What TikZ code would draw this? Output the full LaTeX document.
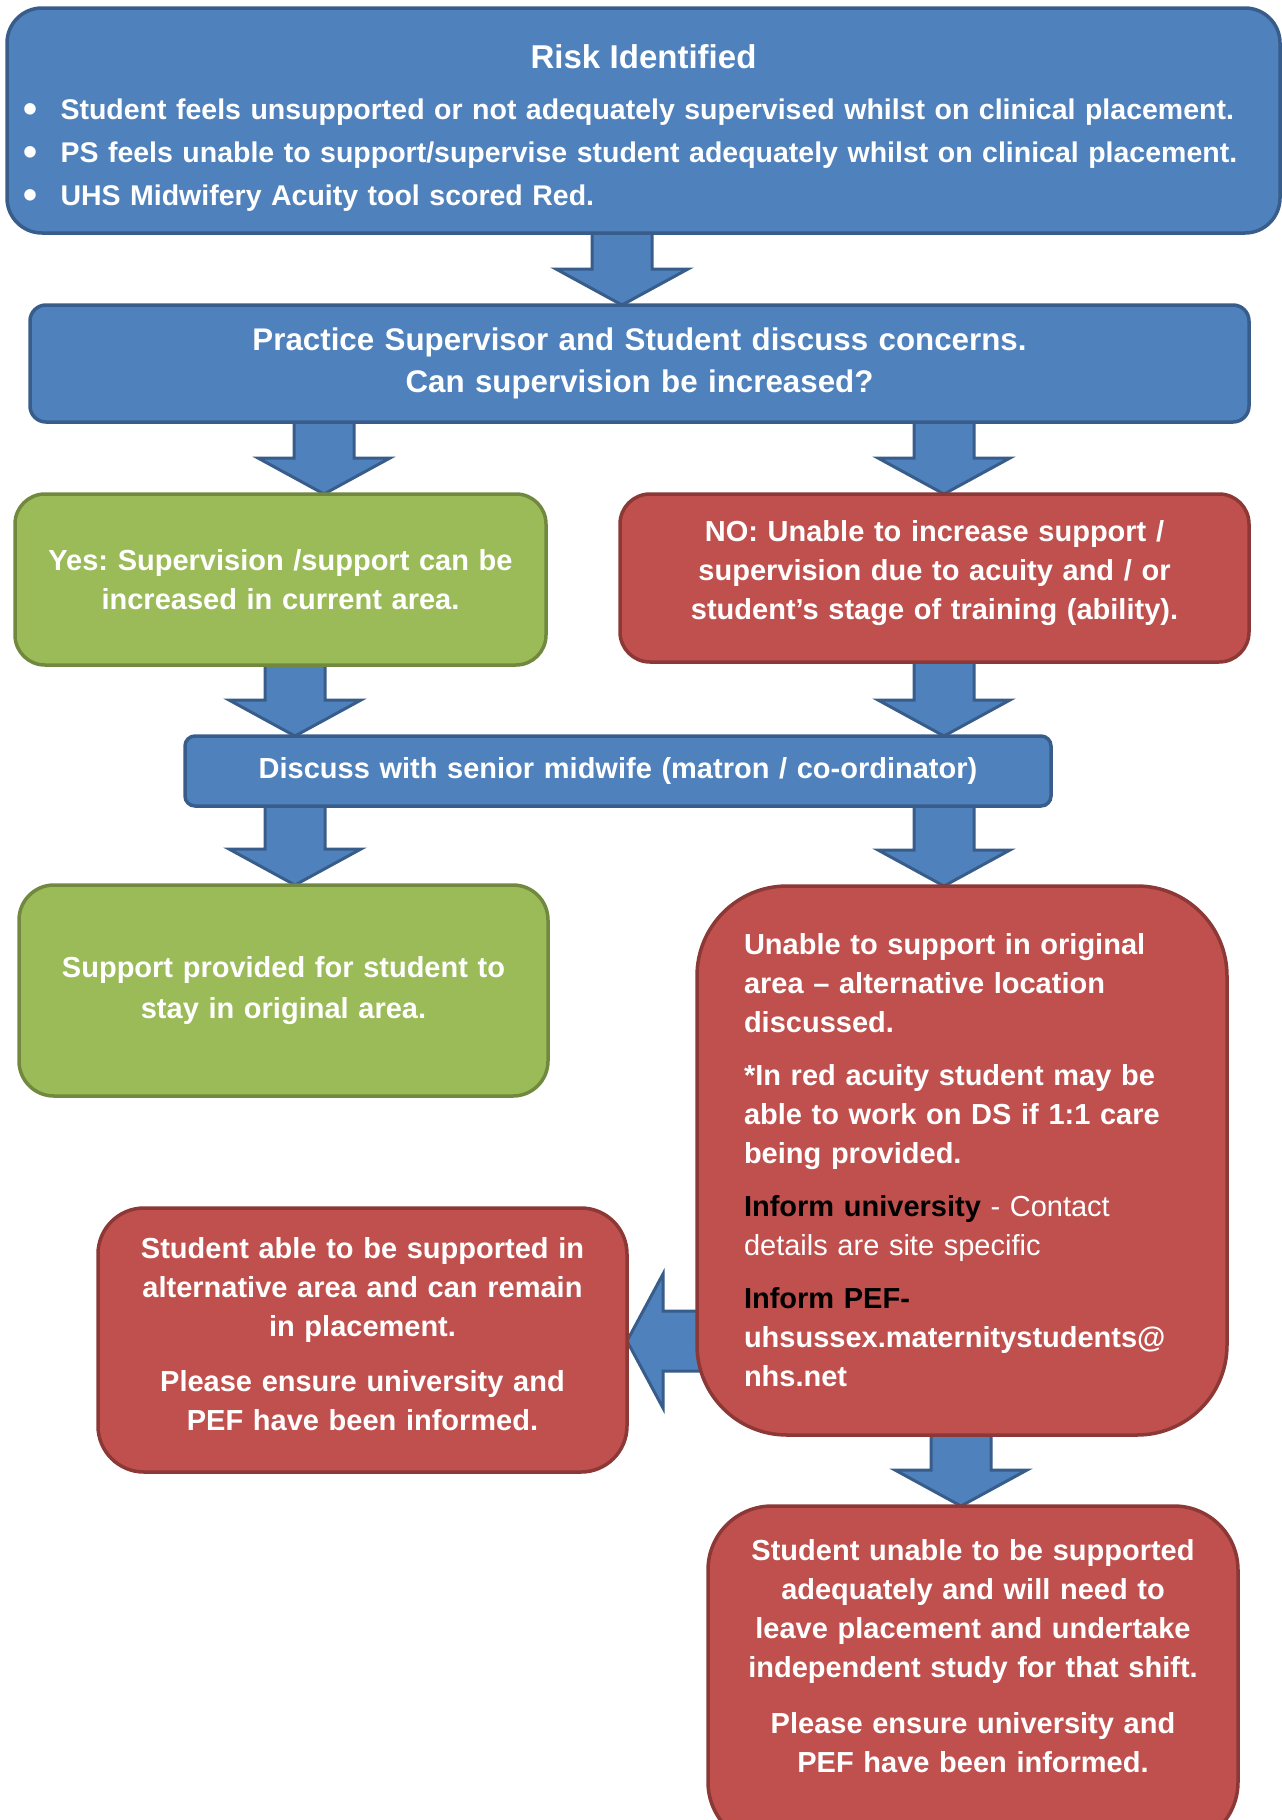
\documentclass[tikz,border=0pt]{standalone}
\usepackage{fontspec}
\setmainfont{Liberation Sans}
\usetikzlibrary{calc}
\pgfdeclarelayer{background}
\pgfsetlayers{background,main}
\definecolor{bfill}{HTML}{4F81BD}
\definecolor{bline}{HTML}{385D8A}
\definecolor{gfill}{HTML}{9BBB59}
\definecolor{gline}{HTML}{71893F}
\definecolor{rfill}{HTML}{C0504D}
\definecolor{rline}{HTML}{8C3836}
\tikzset{
  box/.style={draw, line width=3.5pt, rounded corners=#1, outer sep=0pt, inner sep=6pt,
    text=white, align=center, font=\bfseries\fontsize{29}{39}\selectfont},
  box/.default=20pt,
  bluebox/.style={box=#1, fill=bfill, draw=bline},
  greenbox/.style={box=#1, fill=gfill, draw=gline},
  redbox/.style={box=#1, fill=rfill, draw=rline},
  barrow/.style={fill=bfill, draw=bline, line width=3pt, line join=miter},
}
% vertical block arrow at x=#1 from node #2 (south) to node #3 (north)
\newcommand\downblock[3]{%
  \draw[barrow] let \p1=(#2.south), \p2=(#3.north) in
    (#1pt-30pt,\y1) -- (#1pt+30pt,\y1) -- (#1pt+30pt,\y2+36pt) -- (#1pt+66pt,\y2+36pt)
    -- (#1pt,\y2) -- (#1pt-66pt,\y2+36pt) -- (#1pt-30pt,\y2+36pt) -- cycle;}
\newcommand\bigbullet{\raisebox{-3pt}{\fontsize{40}{40}\selectfont\textbullet}}
\newcommand\bulletline[1]{\makebox[\hsize][l]{\bigbullet\hspace{23pt}#1}}
\frenchspacing
\begin{document}
\begin{tikzpicture}[x=1pt,y=1pt]
\useasboundingbox (0,0) rectangle (1282,-1820);

% boxes
\node[bluebox=35pt, minimum width=1273pt, minimum height=225pt, text width=1240pt, align=center,
      font=\bfseries\fontsize{28.5}{43}\selectfont] (risk) at (643.5,-120.5)
 {\mbox{}\\[-4pt]
  {\fontsize{33}{43}\selectfont Risk Identified}\\[8pt]
  \bulletline{Student feels unsupported or not adequately supervised whilst on clinical placement.}\\
  \bulletline{PS feels unable to support/supervise student adequately whilst on clinical placement.}\\
  \bulletline{UHS Midwifery Acuity tool scored Red.}};

\node[bluebox=16pt, minimum width=1219pt, minimum height=117pt, text width=1180pt, font=\bfseries\fontsize{31.3}{42}\selectfont] (pract) at (639.5,-363.5)
 {Practice Supervisor and Student discuss concerns.\\ Can supervision be increased?};

\node[greenbox=30pt, minimum width=531pt, minimum height=171pt, text width=510pt] (yes) at (280.5,-579.5)
 {Yes: Supervision /support can be\\ increased in current area.};

\node[redbox=30pt, minimum width=629pt, minimum height=168pt, text width=600pt] (no) at (934.5,-578)
 {NO: Unable to increase support /\\ supervision due to acuity and / or\\ student’s stage of training (ability).\\[-23pt]\mbox{}};

\node[bluebox=10pt, minimum width=866pt, minimum height=70pt, text width=840pt] (disc) at (618,-771)
 {Discuss with senior midwife (matron / co-ordinator)};

\node[greenbox=35pt, minimum width=529pt, minimum height=211pt, text width=500pt, font=\bfseries\fontsize{29}{41}\selectfont] (supp) at (283.5,-990.5)
 {Support provided for student to\\ stay in original area.};

\node[redbox=90pt, minimum width=530pt, minimum height=549pt, text width=436pt, align=left] (big) at (962,-1160.5)
 {Unable to support in original\\ area -- alternative location\\ discussed.\\[14pt]
  *In red acuity student may be\\ able to work on DS if 1:1 care\\ being provided.\\[14pt]
  \textcolor{black}{Inform university} {\mdseries - Contact}\\ {\mdseries details are site specific}\\[14pt]
  \textcolor{black}{Inform PEF-}\\ uhsussex.maternitystudents@\\ nhs.net};

\node[redbox=46pt, minimum width=529pt, minimum height=264pt, text width=505pt] (left) at (362.5,-1340)
 {Student able to be supported in\\ alternative area and can remain\\ in placement.\\[16pt]
  Please ensure university and\\ PEF have been informed.\\[-27pt]\mbox{}};

\node[redbox=64pt, minimum width=530pt, minimum height=340pt] (bot) at (973,-1676) {};
\node[text=white, align=center, text width=505pt, font=\bfseries\fontsize{29}{39}\selectfont] (bottext) at (973,-1656)
 {Student unable to be supported\\ adequately and will need to\\ leave placement and undertake\\ independent study for that shift.\\[17pt]
  Please ensure university and\\ PEF have been informed.};

% arrows (behind boxes)
\begin{pgfonlayer}{background}
\downblock{622}{risk}{pract}
\downblock{324}{pract}{yes}
\downblock{944}{pract}{no}
\downblock{295}{yes}{disc}
\downblock{944}{no}{disc}
\downblock{295}{disc}{supp}
\downblock{944}{disc}{big}
\downblock{961}{big}{bot}
\draw[barrow] let \p1=(big.west), \p2=(left.east) in
  (\x1+6pt,-1311pt) -- (\x2+36pt,-1311pt) -- (\x2+36pt,-1274pt) -- (\x2,-1341pt)
  -- (\x2+36pt,-1408pt) -- (\x2+36pt,-1371pt) -- (\x1+6pt,-1371pt) -- cycle;
\end{pgfonlayer}
\end{tikzpicture}
\end{document}
